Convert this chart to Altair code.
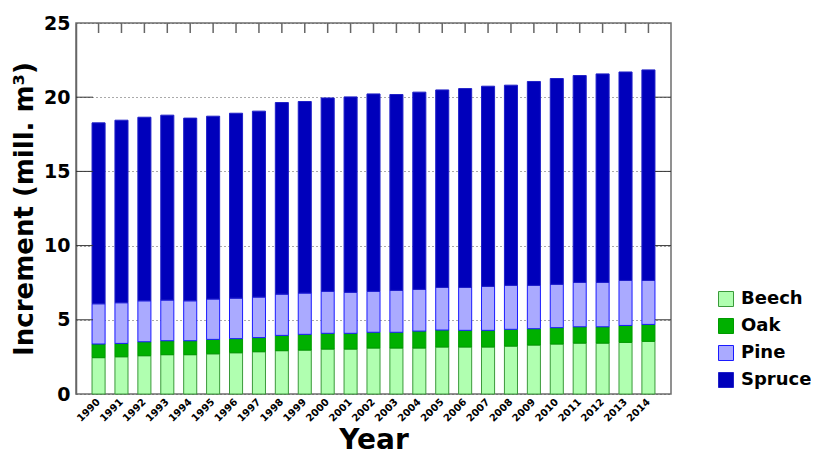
import altair as alt
import pandas as pd

years = [str(y) for y in range(1990, 2015)]
species = ["Beech", "Oak", "Pine", "Spruce"]
beech = [2.45, 2.51, 2.58, 2.65, 2.65, 2.71, 2.78, 2.85, 2.92, 2.96, 3.03, 3.03, 3.10,
         3.10, 3.10, 3.17, 3.17, 3.17, 3.23, 3.30, 3.37, 3.43, 3.43, 3.48, 3.55]
oak = [0.92, 0.90, 0.94, 0.94, 0.94, 0.97, 0.95, 0.95, 1.03, 1.06, 1.06, 1.06, 1.06,
       1.06, 1.14, 1.14, 1.12, 1.12, 1.13, 1.10, 1.10, 1.10, 1.10, 1.14, 1.14]
pine = [2.71, 2.74, 2.76, 2.74, 2.69, 2.72, 2.73, 2.73, 2.78, 2.78, 2.83, 2.76, 2.76,
        2.82, 2.81, 2.87, 2.89, 2.96, 2.96, 2.92, 2.92, 2.99, 2.99, 3.03, 2.96]
spruce = [12.19, 12.30, 12.37, 12.46, 12.31, 12.32, 12.46, 12.53, 12.91, 12.91, 13.03,
          13.17, 13.30, 13.20, 13.29, 13.31, 13.40, 13.49, 13.49, 13.74, 13.87, 13.94,
          14.05, 14.05, 14.19]
fill_colors = ["#b0ffb0", "#00b000", "#aaaaff", "#0000bb"]
stroke_colors = ["#3a9a3a", "#009a00", "#1a1aff", "#2020c8"]
y_ticks = [0, 5, 10, 15, 20, 25]
inner_ticks = [5, 10, 15, 20]

rows = []
for i, y in enumerate(years):
    for k, (sp, vals) in enumerate(zip(species, [beech, oak, pine, spruce])):
        rows.append({"year": y, "species": sp, "value": vals[i], "order": k})
df = pd.DataFrame(rows)
tick_df = pd.DataFrame({"v": inner_ticks})
year_df = pd.DataFrame({"year": years})

W, H = 595, 371
font = "DejaVu Sans"

xscale = alt.Scale(domain=years, paddingInner=0.43, paddingOuter=0.7)
yscale = alt.Scale(domain=[0, 25], nice=False)

bars = alt.Chart(df).mark_bar(strokeWidth=1).encode(
    x=alt.X("year:O", scale=xscale, sort=years,
            axis=alt.Axis(title="Year", labelAngle=-45, labelFontSize=10,
                          labelFont=font, labelFontWeight="bold", labelColor="black",
                          labelAlign="right", labelBaseline="middle", labelPadding=6,
                          tickSize=0, domain=False,
                          titleFont=font, titleFontSize=28, titleFontWeight="bold",
                          titleColor="black", titlePadding=3)),
    y=alt.Y("value:Q", stack="zero", scale=yscale,
            axis=alt.Axis(title="Increment (mill. m³)", values=y_ticks,
                          labelFont=font, labelFontSize=19, labelFontWeight="bold",
                          labelColor="black", labelPadding=6, tickSize=0,
                          domainColor="#666666", domainWidth=1.5,
                          grid=True, gridDash=[1, 3], gridColor="#555555",
                          gridWidth=1,
                          titleFont=font, titleFontSize=26, titleFontWeight="bold",
                          titleColor="black", titlePadding=6)),
    fill=alt.Fill("species:N", scale=alt.Scale(domain=species, range=fill_colors),
                  title=None),
    stroke=alt.Stroke("species:N", scale=alt.Scale(domain=species, range=stroke_colors),
                      title=None),
    order=alt.Order("order:Q", sort="ascending"),
)

left_ticks = alt.Chart(tick_df).mark_rule(color="#333333", strokeWidth=1).encode(
    x=alt.value(0), x2=alt.value(17), y=alt.Y("v:Q", scale=yscale))
right_ticks = alt.Chart(tick_df).mark_rule(color="#333333", strokeWidth=1).encode(
    x=alt.value(W - 16), x2=alt.value(W), y=alt.Y("v:Q", scale=yscale))
top_ticks = alt.Chart(year_df).mark_rule(color="#666666", strokeWidth=1.5).encode(
    x=alt.X("year:O", scale=xscale, sort=years), y=alt.value(0), y2=alt.value(10))

chart = alt.layer(bars, left_ticks, right_ticks, top_ticks).properties(
    width=W, height=H, autosize="none",
    padding={"left": 68, "top": 15, "right": 140, "bottom": 61},
).configure_view(
    stroke="#6e6e6e", strokeWidth=1.5
).configure_legend(
    orient="none", legendX=641, legendY=267, symbolType="square", symbolSize=225,
    labelFont=font, labelFontSize=18, labelFontWeight="bold", labelColor="black",
    rowPadding=7, labelOffset=6, symbolStrokeWidth=1, symbolOpacity=1
)

chart.save("out.html", embed_options={"renderer": "svg", "actions": False})
